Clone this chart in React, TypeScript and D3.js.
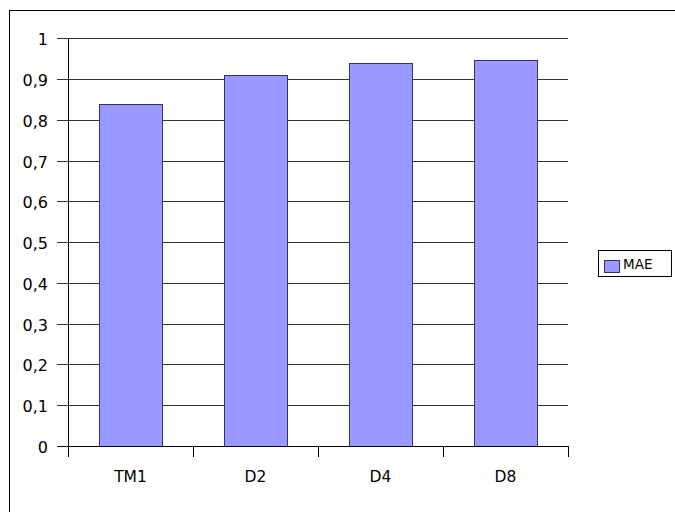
import React from "react";
import * as d3 from "d3";

const categories = ["TM1", "D2", "D4", "D8"];
const maeValues = [0.84, 0.91, 0.94, 0.947];
const yTicks = [0, 0.1, 0.2, 0.3, 0.4, 0.5, 0.6, 0.7, 0.8, 0.9, 1];
const seriesName = "MAE";

const W = 675;
const H = 512;
const plot = { left: 68, right: 568, top: 38.3, bottom: 446 };

export default function App() {
  const x = d3
    .scaleBand<string>()
    .domain(categories)
    .range([plot.left, plot.right])
    .paddingInner(0.5)
    .paddingOuter(0.25);
  const band = d3.scaleBand<string>().domain(categories).range([plot.left, plot.right]);
  const y = d3.scaleLinear().domain([0, 1]).range([plot.bottom, plot.top]);
  const fmt = (v: number) => d3.format(".1~f")(v).replace(".", ",");
  const font = "'DejaVu Sans', sans-serif";

  const xTickPos = [plot.left, ...categories.map((c) => (band(c) as number) + band.bandwidth())];

  return (
    <svg
      width={W}
      height={H}
      style={{ position: "absolute", left: 0, top: 0, background: "#fff", fontFamily: font }}
    >
      <rect x={9.5} y={10.5} width={W + 20} height={H + 20} fill="#fff" stroke="#000" />
      {/* gridlines with left tick stubs */}
      {yTicks.map((t) => (
        <g key={t}>
          <line
            x1={57}
            x2={plot.right}
            y1={Math.round(y(t)) + 0.5}
            y2={Math.round(y(t)) + 0.5}
            stroke={t === 0 ? "#000" : "#333"}
          />
          <text
            x={48}
            y={Math.round(y(t)) + 6.5}
            textAnchor="end"
            style={{ fontSize: "16px" }}
            fill="#000"
          >
            {fmt(t)}
          </text>
        </g>
      ))}
      {/* bars */}
      {categories.map((c, i) => (
        <rect
          key={c}
          x={Math.round(x(c) as number) + 0.5}
          y={Math.round(y(maeValues[i])) + 0.5}
          width={Math.round(x.bandwidth())}
          height={Math.round(y(0)) - Math.round(y(maeValues[i]))}
          fill="#9999FF"
          stroke="#333366"
        />
      ))}
      {/* axes */}
      <line x1={plot.left + 0.5} x2={plot.left + 0.5} y1={plot.top} y2={plot.bottom} stroke="#000" />
      <line x1={plot.left} x2={plot.right} y1={plot.bottom + 0.5} y2={plot.bottom + 0.5} stroke="#000" />
      {xTickPos.map((p, i) => (
        <line
          key={i}
          x1={Math.round(p) + 0.5}
          x2={Math.round(p) + 0.5}
          y1={plot.bottom}
          y2={plot.bottom + 11}
          stroke="#000"
        />
      ))}
      {categories.map((c) => (
        <text
          key={c}
          x={(band(c) as number) + band.bandwidth() / 2}
          y={482}
          textAnchor="middle"
          style={{ fontSize: "15.5px" }}
          fill="#000"
        >
          {c}
        </text>
      ))}
      {/* legend */}
      <rect x={598.5} y={250.5} width={73} height={26} fill="#fff" stroke="#000" />
      <rect x={604.5} y={260.5} width={15} height={12} fill="#9999FF" stroke="#333366" />
      <text x={623} y={268.5} style={{ fontSize: "13.5px" }} fill="#000">
        {seriesName}
      </text>
    </svg>
  );
}
